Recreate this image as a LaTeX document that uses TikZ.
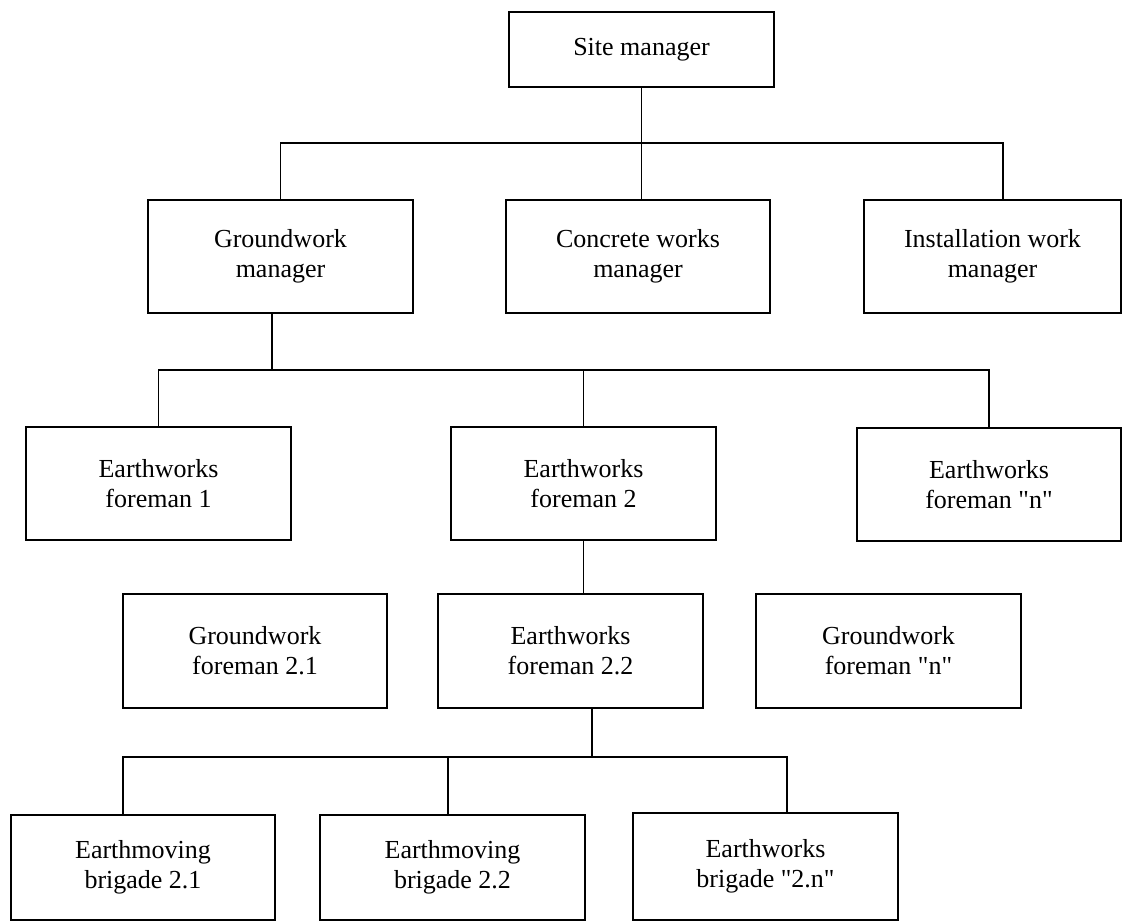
\documentclass[tikz,border=0pt]{standalone}
\usepackage{fontspec}
\setmainfont{Liberation Serif}
\newfontfamily\tnrfont{Liberation Serif}
\begin{document}
\begin{tikzpicture}[x=1pt,y=-1pt,
  box/.style={draw, line width=1.6pt, inner sep=0pt, align=center,
    font=\tnrfont\fontsize{26}{30}\selectfont, minimum width=265pt, minimum height=113pt},
  link/.style={line width=1.6pt}]
\useasboundingbox (0,0) rectangle (1122,922);
% boxes
\node[box, minimum height=75pt] (sm) at (641.5,49.5) {Site manager};
\node[box] (gm) at (280.5,256.5) {Groundwork\\manager};
\node[box, minimum width=264pt] (cm) at (638,256.5) {Concrete works\\manager};
\node[box, minimum width=257pt] (im) at (992.5,256.5) {Installation work\\manager};
\node[box] (ef1) at (158.5,483.5) {Earthworks\\foreman 1};
\node[box] (ef2) at (583.5,483.5) {Earthworks\\foreman 2};
\node[box, minimum width=264pt] (efn) at (989,484.5) {Earthworks\\foreman "n"};
\node[box, minimum width=264pt, minimum height=114pt] (gf21) at (255,651) {Groundwork\\foreman 2.1};
\node[box, minimum height=114pt] (ef22) at (570.5,651) {Earthworks\\foreman 2.2};
\node[box, minimum height=114pt] (gfn) at (888.5,651) {Groundwork\\foreman "n"};
\node[box, minimum width=264pt, minimum height=105pt] (eb21) at (143,867.5) {Earthmoving\\brigade 2.1};
\node[box, minimum height=105pt] (eb22) at (452.5,867.5) {Earthmoving\\brigade 2.2};
\node[box, minimum height=107pt] (eb2n) at (765.5,866.5) {Earthworks\\brigade "2.n"};
% bus coordinates
\coordinate (bus1) at (1003,143);
\coordinate (bus2) at (0,370);
\coordinate (bus4) at (0,757);
% level 1
\draw[link] (sm.south) -- (sm.south |- cm.north);
\draw[link] (gm.north) |- (bus1) -- (bus1 |- im.north);
% level 2
\draw[link] ([xshift=-8.5pt]gm.south) -- ([xshift=-8.5pt]gm.south |- bus2);
\draw[link] (ef1.north) |- (efn.north |- bus2) -- (efn.north);
\draw[link] (ef2.north) -- (ef2.north |- bus2);
% level 3
\draw[link] (ef2.south) -- (ef2.south |- ef22.north);
% level 4
\draw[link] ([xshift=21.5pt]ef22.south) -- ([xshift=21.5pt]ef22.south |- bus4);
\draw[link] ([xshift=-20pt]eb21.north) |- ([xshift=21.5pt]eb2n.north |- bus4) -- ([xshift=21.5pt]eb2n.north);
\draw[link] ([xshift=-4.5pt]eb22.north) -- ([xshift=-4.5pt]eb22.north |- bus4);
\end{tikzpicture}
\end{document}
